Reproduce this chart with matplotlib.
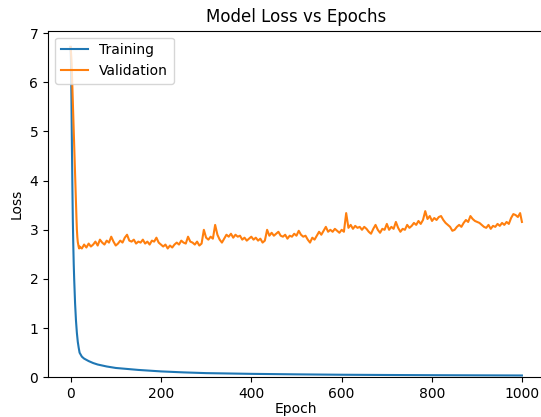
import matplotlib
matplotlib.use("Agg")
import matplotlib.pyplot as plt

train_epochs = [0, 1, 2, 3, 4, 5, 6, 7, 8, 9, 10, 12, 14, 16, 18, 20, 25, 30, 40, 50, 60, 80,
                100, 150, 200, 250, 300, 400, 500, 600, 700, 800, 900, 999]
train_loss = [6.72, 6.40, 5.60, 4.70, 3.90, 3.20, 2.70, 2.30, 2.00, 1.75, 1.50, 1.15, 0.90, 0.72,
              0.60, 0.50, 0.42, 0.38, 0.33, 0.29, 0.26, 0.22, 0.19, 0.15, 0.12, 0.10, 0.085,
              0.07, 0.06, 0.052, 0.047, 0.043, 0.040, 0.037]

val_epochs = list(range(0, 21)) + list(range(25, 1000, 5)) + [999]
val_loss = [6.72, 6.60, 6.45, 6.20, 5.90, 5.60, 5.30, 5.00, 4.70, 4.40, 4.10, 3.80, 3.50, 3.25,
            3.00, 2.85, 2.75, 2.70, 2.65, 2.62, 2.66,
            2.62, 2.70, 2.64, 2.72, 2.66, 2.70, 2.76, 2.68, 2.80, 2.74, 2.70, 2.78, 2.74, 2.86,
            2.76, 2.68, 2.72, 2.78, 2.74, 2.84, 2.90, 2.78, 2.76, 2.80, 2.72, 2.76, 2.74, 2.80,
            2.72, 2.76, 2.70, 2.78, 2.76, 2.84, 2.74, 2.70, 2.66, 2.70, 2.62, 2.68, 2.64, 2.70,
            2.74, 2.70, 2.78, 2.74, 2.72, 2.86, 2.76, 2.74, 2.70, 2.76, 2.68, 2.72, 3.00, 2.84,
            2.80, 2.86, 2.82, 3.10, 2.90, 2.80, 2.74, 2.82, 2.90, 2.86, 2.92, 2.84, 2.90, 2.86,
            2.88, 2.80, 2.84, 2.78, 2.82, 2.86, 2.80, 2.84, 2.78, 2.82, 2.74, 2.78, 3.00, 2.88,
            2.94, 2.88, 2.92, 2.96, 2.88, 2.86, 2.90, 2.82, 2.88, 2.86, 2.92, 2.88, 2.98, 2.90,
            2.86, 2.88, 2.80, 2.74, 2.84, 2.80, 2.88, 2.96, 2.90, 2.98, 3.06, 2.96, 3.00, 2.96,
            3.02, 2.98, 2.94, 3.00, 2.96, 3.34, 3.04, 3.10, 3.02, 3.08, 3.04, 3.06, 3.00, 3.06,
            3.02, 2.96, 2.92, 3.02, 3.10, 3.00, 2.94, 3.02, 3.00, 3.12, 3.00, 3.06, 3.02, 3.16,
            3.04, 2.96, 3.02, 3.00, 3.10, 3.04, 3.08, 3.14, 3.10, 3.18, 3.12, 3.20, 3.38, 3.22,
            3.28, 3.18, 3.24, 3.20, 3.26, 3.28, 3.20, 3.14, 3.10, 3.06, 2.98, 3.00, 3.06, 3.10,
            3.06, 3.14, 3.20, 3.16, 3.28, 3.22, 3.18, 3.16, 3.14, 3.10, 3.06, 3.04, 3.10, 3.02,
            3.08, 3.06, 3.12, 3.08, 3.14, 3.10, 3.16, 3.12, 3.24, 3.32, 3.30, 3.26, 3.34, 3.16]

fig = plt.figure(figsize=(5.41, 4.17), dpi=100)
ax = fig.add_axes([48 / 541, 39.7 / 417, 496.5 / 541, 346.6 / 417])
ax.plot(train_epochs, train_loss, color="tab:blue", label="Training")
ax.plot(val_epochs, val_loss, color="tab:orange", label="Validation")
ax.set_xlim(-49.95, 1048.95)
ax.set_ylim(0, 7.05)
ax.spines["right"].set_visible(False)
ax.set_title("Model Loss vs Epochs")
ax.set_xlabel("Epoch", labelpad=1)
ax.set_ylabel("Loss")
ax.legend(loc="upper left")
fig.savefig("out.png", dpi=100)
